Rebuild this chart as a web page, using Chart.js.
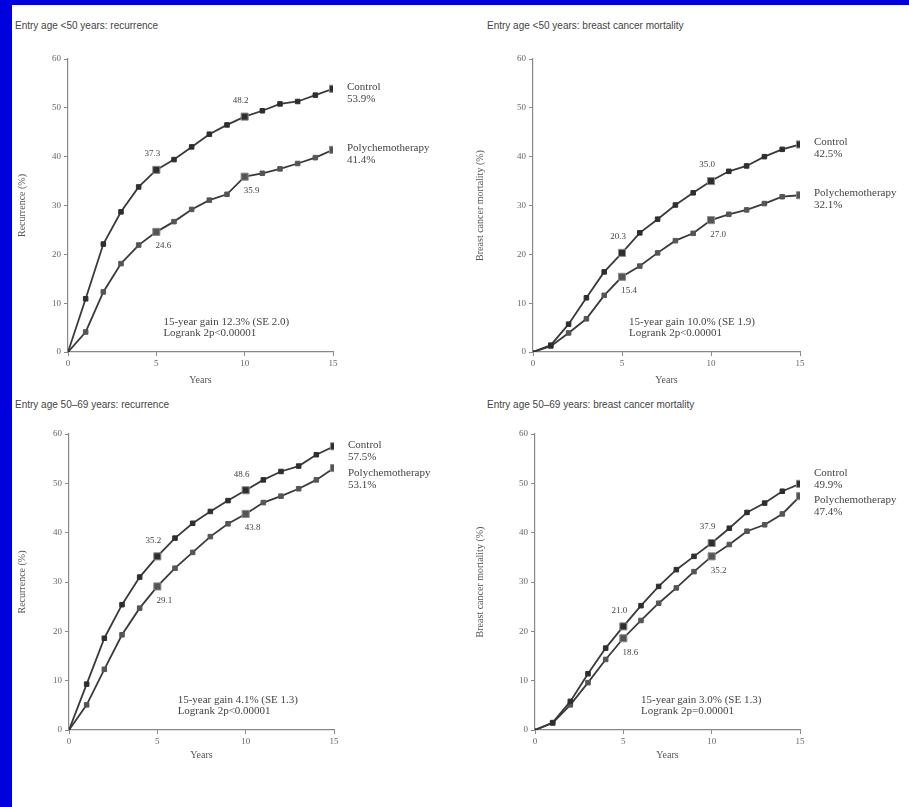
<!DOCTYPE html>
<html>
<head>
<meta charset="utf-8">
<script src="https://cdn.jsdelivr.net/npm/chart.js@4.4.1/dist/chart.umd.min.js"></script>
<style>
  body { margin: 0; background: #fff; }
  #page { position: relative; width: 909px; height: 807px; overflow: hidden; background: #fff; }
  .bar-left { position: absolute; left: 0; top: 0; width: 12px; height: 807px; background: #0000dc; }
  .bar-top { position: absolute; left: 0; top: 0; width: 909px; height: 5px; background: #0000dc; }
  .title { position: absolute; font: 10px "Liberation Sans", sans-serif; color: #444; white-space: nowrap; }
  canvas { position: absolute; }
</style>
</head>
<body>
<div id="page">
  <div class="bar-left"></div>
  <div class="bar-top"></div>
  <div class="title" style="left:15px; top:20px;">Entry age &lt;50 years: recurrence</div>
  <div class="title" style="left:487px; top:20px;">Entry age &lt;50 years: breast cancer mortality</div>
  <div class="title" style="left:15px; top:399px;">Entry age 50–69 years: recurrence</div>
  <div class="title" style="left:487px; top:399px;">Entry age 50–69 years: breast cancer mortality</div>
  <canvas id="c1" width="440" height="350" style="left:12px; top:40px;"></canvas>
  <canvas id="c2" width="439" height="350" style="left:470px; top:40px;"></canvas>
  <canvas id="c3" width="440" height="350" style="left:12px; top:415px;"></canvas>
  <canvas id="c4" width="439" height="350" style="left:470px; top:415px;"></canvas>
</div>
<script>
const years = [0, 1, 2, 3, 4, 5, 6, 7, 8, 9, 10, 11, 12, 13, 14, 15];
const xTicks = [0, 5, 10, 15];
const yTicks = [0, 10, 20, 30, 40, 50, 60];
const seriesNames = ["Control", "Polychemotherapy"];

// age <50, recurrence
const youngRecControl = [0, 10.9, 22.1, 28.7, 33.8, 37.3, 39.4, 42.0, 44.6, 46.5, 48.2, 49.4, 50.8, 51.3, 52.6, 53.9];
const youngRecChemo = [0, 4.1, 12.3, 18.1, 21.9, 24.6, 26.7, 29.2, 31.1, 32.3, 35.9, 36.6, 37.5, 38.6, 39.8, 41.4];
// age <50, breast cancer mortality
const youngMortControl = [0, 1.4, 5.7, 11.1, 16.4, 20.3, 24.4, 27.2, 30.1, 32.6, 35.0, 37.0, 38.1, 40.0, 41.5, 42.5];
const youngMortChemo = [0, 1.2, 3.9, 6.8, 11.6, 15.4, 17.6, 20.3, 22.8, 24.3, 27.0, 28.2, 29.1, 30.4, 31.8, 32.1];
// age 50-69, recurrence
const oldRecControl = [0, 9.3, 18.6, 25.4, 31.0, 35.2, 38.9, 41.9, 44.3, 46.5, 48.6, 50.7, 52.4, 53.5, 55.8, 57.5];
const oldRecChemo = [0, 5.1, 12.3, 19.3, 24.7, 29.1, 32.8, 36.0, 39.2, 41.8, 43.8, 46.1, 47.4, 48.9, 50.7, 53.1];
// age 50-69, breast cancer mortality
const oldMortControl = [0, 1.5, 5.8, 11.4, 16.6, 21.0, 25.2, 29.1, 32.5, 35.2, 37.9, 40.9, 44.1, 46.0, 48.4, 49.9];
const oldMortChemo = [0, 1.4, 5.1, 9.6, 14.3, 18.6, 22.2, 25.7, 28.8, 32.1, 35.2, 37.6, 40.3, 41.6, 43.8, 47.4];

const gainText = [
  ["15-year gain 12.3% (SE 2.0)", "Logrank 2p<0.00001"],
  ["15-year gain 10.0% (SE 1.9)", "Logrank 2p<0.00001"],
  ["15-year gain 4.1% (SE 1.3)", "Logrank 2p<0.00001"],
  ["15-year gain 3.0% (SE 1.3)", "Logrank 2p=0.00001"],
];

const serif = '"Liberation Serif", "DejaVu Serif", serif';

const annotate = {
  id: "annotate",
  afterDatasetsDraw(chart, args, opts) {
    const ctx = chart.ctx;
    ctx.save();
    ctx.fillStyle = "#444";
    // values at 5 and 10 years
    ctx.font = "9px " + serif;
    ctx.textAlign = "center";
    ctx.textBaseline = "middle";
    [0, 1].forEach(d => {
      const meta = chart.getDatasetMeta(d);
      const vals = chart.data.datasets[d].data;
      [5, 10].forEach(yr => {
        const p = meta.data[yr];
        const dx = d === 0 ? -4 : 7;
        const dy = d === 0 ? -16 : 14;
        ctx.fillText(vals[yr].y.toFixed(1), p.x + dx, p.y + dy);
      });
    });
    // end-of-line labels
    ctx.font = "11px " + serif;
    ctx.textAlign = "left";
    [0, 1].forEach(d => {
      const meta = chart.getDatasetMeta(d);
      const vals = chart.data.datasets[d].data;
      const p = meta.data[vals.length - 1];
      const off = opts.endOffsets[d];
      ctx.fillText(seriesNames[d], p.x + 14, p.y + off);
      ctx.fillText(vals[vals.length - 1].y.toFixed(1) + "%", p.x + 14, p.y + off + 12);
    });
    // gain text
    const a = chart.chartArea;
    const gx = a.left + opts.gainX * (a.right - a.left);
    ctx.fillText(opts.gain[0], gx, a.bottom - 30);
    ctx.fillText(opts.gain[1], gx, a.bottom - 19);
    ctx.restore();
  }
};

function makePanel(id, control, chemo, yTitle, o) {
  const pts = arr => years.map((x, i) => ({ x: x, y: arr[i] }));
  const radius = c => {
    const x = years[c.dataIndex];
    return x === 0 ? 1.5 : (x % 5 === 0 ? 5 : 3.2);
  };
  const ds = (label, arr, fill) => ({
    label: label,
    data: pts(arr),
    borderColor: "#3a3a3a",
    borderWidth: 1.8,
    backgroundColor: fill,
    pointBackgroundColor: fill,
    pointBorderColor: c => years[c.dataIndex] % 5 === 0 && years[c.dataIndex] > 0 ? "#8a8a8a" : fill,
    pointBorderWidth: 1,
    pointStyle: "rect",
    pointRadius: radius,
    tension: 0,
  });
  return new Chart(document.getElementById(id), {
    type: "line",
    plugins: [annotate],
    data: { datasets: [ds(seriesNames[0], control, "#2e2e2e"), ds(seriesNames[1], chemo, "#555")] },
    options: {
      responsive: false,
      animation: false,
      layout: { padding: { top: 19, right: o.padRight, left: 0, bottom: 0 } },
      plugins: {
        legend: { display: false },
        tooltip: { enabled: false },
        annotate: { endOffsets: o.endOffsets, gain: o.gain, gainX: o.gainX },
      },
      scales: {
        x: {
          type: "linear",
          min: 0, max: 15,
          afterBuildTicks: s => { s.ticks = xTicks.map(v => ({ value: v })); },
          afterFit: s => { s.height = o.xHeight; },
          grid: { drawOnChartArea: false, drawTicks: true, tickLength: 4, color: "#888" },
          border: { color: "#888", width: 1.2 },
          ticks: { color: "#666", font: { size: 9, family: serif }, padding: 2 },
          title: { display: true, text: "Years", color: "#555", font: { size: 10, family: serif }, padding: { top: -3 } },
        },
        y: {
          min: 0, max: 60,
          afterBuildTicks: s => { s.ticks = yTicks.map(v => ({ value: v })); },
          afterFit: s => { s.width = o.yWidth; },
          grid: { drawOnChartArea: false, drawTicks: true, tickLength: 4, color: "#888" },
          border: { color: "#888", width: 1.2 },
          ticks: { color: "#666", font: { size: 9, family: serif }, padding: 3 },
          title: { display: true, text: yTitle, color: "#555", font: { size: 10, family: serif }, padding: { bottom: 6 } },
        },
      },
    },
  });
}

makePanel("c1", youngRecControl, youngRecChemo, "Recurrence (%)",
  { padRight: 119, yWidth: 56, xHeight: 38, endOffsets: [-2, -2], gain: gainText[0], gainX: 0.36 });
makePanel("c2", youngMortControl, youngMortChemo, "Breast cancer mortality (%)",
  { padRight: 109, yWidth: 63, xHeight: 38, endOffsets: [-2, -2], gain: gainText[1], gainX: 0.36 });
makePanel("c3", oldRecControl, oldRecChemo, "Recurrence (%)",
  { padRight: 118, yWidth: 57, xHeight: 35, endOffsets: [-1, 5], gain: gainText[2], gainX: 0.41 });
makePanel("c4", oldMortControl, oldMortChemo, "Breast cancer mortality (%)",
  { padRight: 109, yWidth: 65, xHeight: 35, endOffsets: [-11, 4], gain: gainText[3], gainX: 0.40 });
</script>
</body>
</html>
